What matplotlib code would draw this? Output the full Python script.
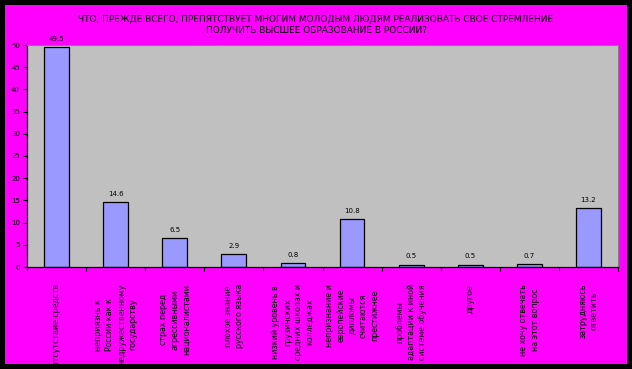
import numpy as np
import matplotlib.pyplot as plt
from matplotlib.patches import Rectangle
from matplotlib.transforms import blended_transform_factory

# data
categories = [
    'отсутствие средств',
    'неприязнь к\nРоссии как к\nнедружественному\nгосударству',
    'страх перед\nагрессивными\nнационалистами',
    'плохое знание\nрусского языка',
    'низкий уровень в\nгрузинских\nсредних школах и\nколледжах',
    'непризнание и\nевропейские\nдипломы\nсчитаются\nпрестижнее',
    'проблемы\nадаптации к иной\nсистеме обучения',
    'другое',
    'не хочу отвечать\nна этот вопрос',
    'затрудняюсь\nответить',
]
values = [49.5, 14.6, 6.5, 2.9, 0.8, 10.8, 0.5, 0.5, 0.7, 13.2]
yticks = [0, 5, 10, 15, 20, 25, 30, 35, 40, 45, 50]
title = ('ЧТО, ПРЕЖДЕ ВСЕГО, ПРЕПЯТСТВУЕТ МНОГИМ МОЛОДЫМ ЛЮДЯМ РЕАЛИЗОВАТЬ СВОЕ СТРЕМЛЕНИЕ\n'
         'ПОЛУЧИТЬ ВЫСШЕЕ ОБРАЗОВАНИЕ В РОССИИ?')

W, H = 632, 369
fig = plt.figure(figsize=(W / 100, H / 100), dpi=100)
fig.patch.set_facecolor('black')
# magenta chart area inside the black frame
fig.add_artist(Rectangle((5 / W, 5 / H), 622 / W, 359 / H, transform=fig.transFigure,
                         facecolor='#FF00FF', edgecolor='none', zorder=0))

ax = fig.add_axes([27 / W, 1 - 267 / H, 591 / W, 222 / H])
ax.set_facecolor('#C0C0C0')

x = np.arange(len(values))
ax.bar(x, values, width=0.42, color='#9999FF', edgecolor='black', linewidth=0.9, zorder=2)
for xi, v in zip(x, values):
    ax.text(xi, v + 1.2, f'{v}', ha='center', va='bottom', fontsize=5)

ax.set_xlim(-0.5, len(values) - 0.5)
ax.set_ylim(0, 50)
ax.set_yticks(yticks)
ax.set_yticklabels([str(t) for t in yticks], fontsize=5)
ax.set_xticks(np.arange(len(values) + 1) - 0.5)
ax.set_xticklabels([])
ax.tick_params(axis='both', length=3, width=0.8, color='black', pad=2)

for s in ['top', 'right']:
    ax.spines[s].set_color('#808080')
    ax.spines[s].set_linewidth(0.8)
for s in ['left', 'bottom']:
    ax.spines[s].set_color('black')
    ax.spines[s].set_linewidth(0.9)

# rotated category labels, top-aligned just below the axis
trans = blended_transform_factory(ax.transData, fig.transFigure)
for xi, lab in zip(x, categories):
    ax.text(xi, 1 - 284 / H, lab, transform=trans,
            fontsize=5.7, rotation=90, ha='center', va='top', multialignment='center',
            linespacing=1.33, clip_on=False)

fig.text(0.5, 1 - 25 / H, title, ha='center', va='center', fontsize=6.5, linespacing=1.35)

fig.savefig('out.png', dpi=100, facecolor=fig.get_facecolor())
